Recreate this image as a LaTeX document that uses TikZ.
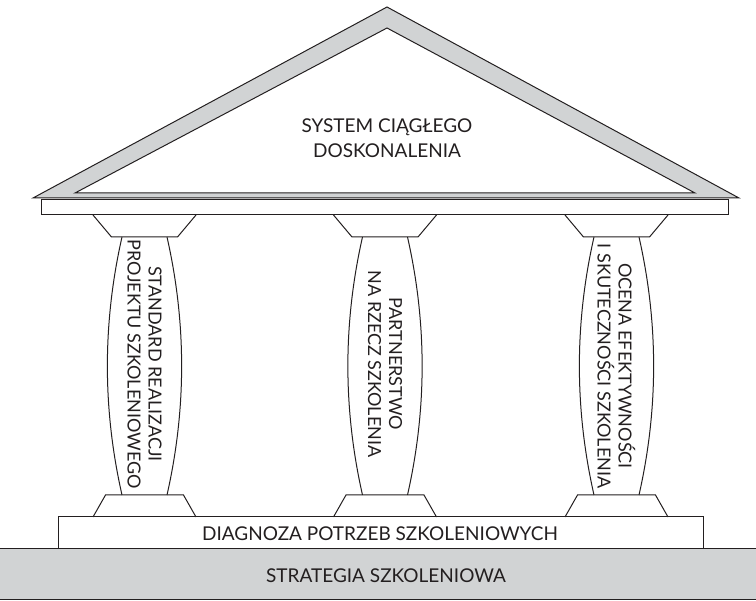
\documentclass[tikz,border=0pt]{standalone}
\usepackage{fontspec}
\setmainfont{Lato}
\usetikzlibrary{positioning}
\definecolor{ink}{RGB}{35,31,32}
\definecolor{stonegray}{RGB}{209,211,212}

\begin{document}
\begin{tikzpicture}[x=1pt, y=-1pt,
        outline/.style={draw=ink, line width=1pt, line join=miter},
        caption/.style={font=\fontsize{19}{25}\selectfont, text=ink, align=center, inner sep=0pt},
        pillartext/.style={caption, font=\fontsize{18}{21}\selectfont, rotate=-90}
    ]
        \useasboundingbox (0,0) rectangle (756,601);

        % Foundation
        \filldraw[outline, fill=stonegray] (-2,549) rectangle (758,600);
        \filldraw[outline, fill=white] (58,517) rectangle (703,549);
        \node[caption] (strategy) at (386,576) {STRATEGIA SZKOLENIOWA};
        \node[caption] (needs) at (380,534) {DIAGNOZA POTRZEB SZKOLENIOWYCH};

        % Roof
        \filldraw[outline, fill=stonegray] (33,198) -- (387,7) -- (739,198) -- cycle;
        \filldraw[outline, fill=white] (75,193) -- (387,28) -- (695,193) -- cycle;
        \filldraw[outline, fill=white] (41,200) rectangle (728,215);
        \node[caption] (roof) at (387,138) {SYSTEM CIĄGŁEGO\\DOSKONALENIA};

        % Pillars
        \foreach \c in {144.5, 385, 616.5} {
            \draw[outline] (\c-51.5,215) -- (\c-33,237) -- (\c+33,237) -- (\c+51.5,215);
            \draw[outline] (\c-22.5,237) .. controls (\c-42,323) and (\c-42,409) .. (\c-22.5,495);
            \draw[outline] (\c+22.5,237) .. controls (\c+42,323) and (\c+42,409) .. (\c+22.5,495);
            \draw[outline] (\c-51.5,517) -- (\c-39,495) -- (\c+39,495) -- (\c+51.5,517);
        }
        \node[pillartext] (standard) at (144.5,364) {STANDARD REALIZACJI\\PROJEKTU SZKOLENIOWEGO};
        \node[pillartext] (partnership) at (385,364) {PARTNERSTWO\\NA RZECZ SZKOLENIA};
        \node[pillartext] (evaluation) at (616.5,366) {OCENA EFEKTYWNOŚCI\\I SKUTECZNOŚCI SZKOLENIA};
    \end{tikzpicture}
\end{document}
